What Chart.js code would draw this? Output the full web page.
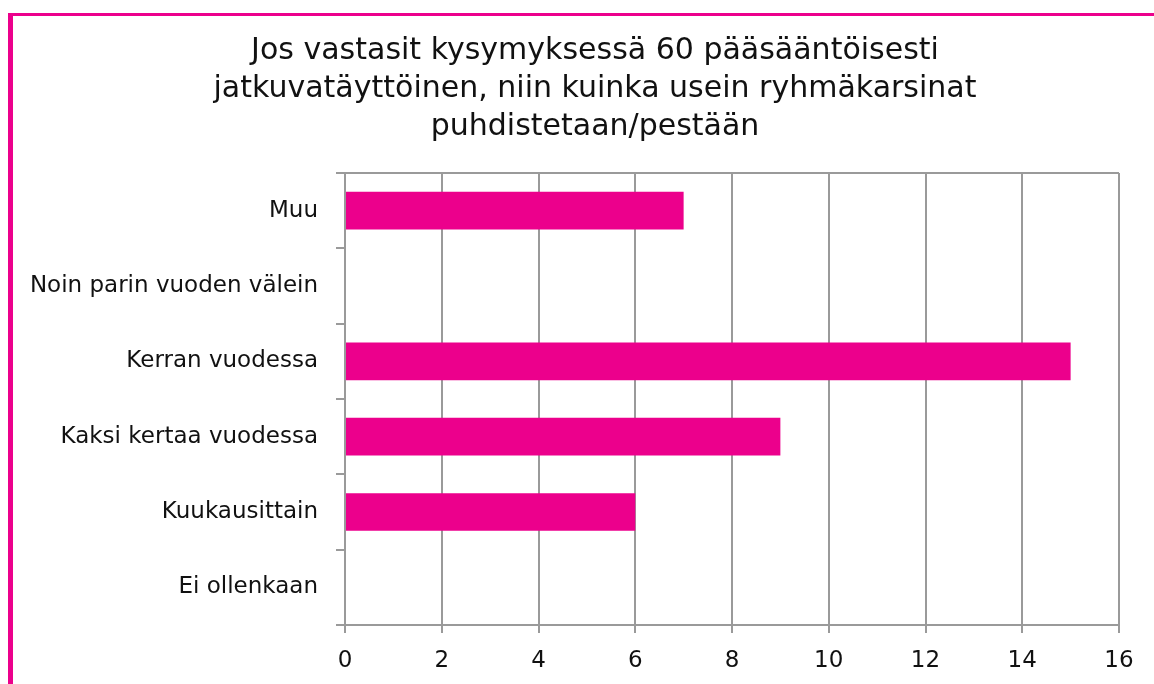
<!DOCTYPE html>
<html>
<head>
<meta charset="utf-8">
<script src="https://cdn.jsdelivr.net/npm/chart.js@4"></script>
<style>
  html, body { margin: 0; padding: 0; background: #fff; overflow: hidden; }
  #frame {
    position: absolute; left: 8px; top: 13px; width: 1146px; height: 671px;
    border-left: 5px solid #ec008c; border-top: 3px solid #ec008c;
  }
  #wrap { position: absolute; left: 0; top: 0; width: 1141px; height: 668px; }
</style>
</head>
<body>
<div id="frame"><div id="wrap"><canvas id="chart"></canvas></div></div>
<script>
// chart data
const titleLines = [
  "Jos vastasit kysymyksessä 60 pääsääntöisesti",
  "jatkuvatäyttöinen, niin kuinka usein ryhmäkarsinat",
  "puhdistetaan/pestään"
]
const categories = [
  "Muu",
  "Noin parin vuoden välein",
  "Kerran vuodessa",
  "Kaksi kertaa vuodessa",
  "Kuukausittain",
  "Ei ollenkaan"
]
const answers = [7, 0, 15, 9, 6, 0]
const xMax = 16
const xStep = 2

const pink = "#ec008c"
const gray = "#9a9a9a"
const labelFont = { family: "DejaVu Sans", size: 23 }

let canvas = document.querySelector("#chart")

// the title in the original sits a bit right of the canvas middle
const shiftTitle = {
  id: "shiftTitle",
  afterLayout: function(chart) {
    if (chart.titleBlock) chart.titleBlock.left = 58
  }
}

new Chart(canvas, {
  type: "bar",
  data: {
    labels: categories,
    datasets: [{
      data: answers,
      backgroundColor: pink,
      borderWidth: 0,
      barPercentage: 0.5,
      categoryPercentage: 1
    }]
  },
  options: {
    indexAxis: "y",
    responsive: true,
    maintainAspectRatio: false,
    animation: false,
    layout: { padding: { left: 5, right: 35, top: 0, bottom: 0 } },
    plugins: {
      legend: { display: false },
      tooltip: { enabled: false },
      title: {
        display: true,
        text: titleLines,
        color: "#111",
        font: { family: "DejaVu Sans", size: 30, weight: "normal", lineHeight: 1.267 },
        padding: { top: 16, bottom: 27 }
      }
    },
    scales: {
      x: {
        min: 0,
        max: xMax,
        afterFit: function(scale) { scale.height = 59 },
        ticks: { stepSize: xStep, color: "#111", font: labelFont, padding: 14 },
        grid: { color: gray, lineWidth: 2, tickLength: 8 },
        border: { color: gray, width: 2 }
      },
      y: {
        offset: true,
        afterFit: function(scale) { scale.width = 327 },
        ticks: { color: "#111", font: labelFont, padding: 18 },
        grid: {
          offset: true,
          // only the top edge of the plot is drawn across the area
          color: function(ctx) { return ctx.index === 0 ? gray : "rgba(0,0,0,0)" },
          tickColor: gray,
          lineWidth: 2,
          tickLength: 9
        },
        border: { color: gray, width: 2 }
      }
    }
  },
  plugins: [shiftTitle]
})
</script>
</body>
</html>
